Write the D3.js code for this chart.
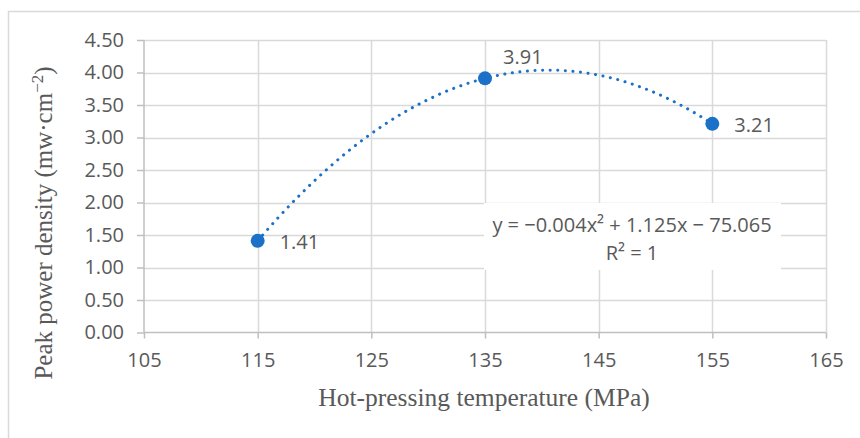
<!DOCTYPE html>
<html>
<head>
<meta charset="utf-8">
<script src="https://cdn.jsdelivr.net/npm/d3@7"></script>
<style>
  html, body { margin: 0; padding: 0; background: #fff; }
  svg { display: block; }
</style>
</head>
<body>
<svg id="chart" width="860" height="438"></svg>
<script>
// ---- data ----
const temperatures = [115, 135, 155];
const peakPower = [1.41, 3.91, 3.21];
const xTicks = [105, 115, 125, 135, 145, 155, 165];
const yTicks = [0, 0.5, 1, 1.5, 2, 2.5, 3, 3.5, 4, 4.5];
const xTitle = "Hot-pressing temperature (MPa)";
const equationText = "y = \u22120.004x\u00B2 + 1.125x \u2212 75.065";
const r2Text = "R\u00B2 = 1";

// ---- layout ----
const W = 860, H = 438;
const plot = { left: 144, right: 826, top: 40, bottom: 332.5 };
const svg = d3.select("#chart");

const x = d3.scaleLinear().domain([105, 165]).range([plot.left, plot.right]);
const y = d3.scaleLinear().domain([0, 4.5]).range([plot.bottom, plot.top]);

const gridColor = "#d9d9d9";
const axisColor = "#bfbfbf";
const textColor = "#595959";
const blue = "#1b70c8";
const sansFont = "'Open Sans', sans-serif";
const serifFont = "'Liberation Serif', 'Times New Roman', serif";

// chart border (only top & left visible)
svg.append("rect")
  .attr("x", 8.5).attr("y", 11.5)
  .attr("width", 900).attr("height", 500)
  .attr("fill", "none").attr("stroke", "#d9d9d9").attr("stroke-width", 1.5);

// gridlines
const grid = svg.append("g");
grid.selectAll("line.h").data(yTicks.filter(d => d > 0)).join("line")
  .attr("x1", plot.left).attr("x2", plot.right)
  .attr("y1", d => Math.round(y(d)) + 0.5).attr("y2", d => Math.round(y(d)) + 0.5)
  .attr("stroke", gridColor).attr("stroke-width", 1.5);
grid.selectAll("line.v").data(xTicks.filter(d => d > 105)).join("line")
  .attr("y1", plot.top).attr("y2", plot.bottom)
  .attr("x1", d => Math.round(x(d)) + 0.5).attr("x2", d => Math.round(x(d)) + 0.5)
  .attr("stroke", gridColor).attr("stroke-width", 1.5);

// axes
const xAxis = d3.axisBottom(x).tickValues(xTicks).tickSize(6).tickPadding(14).tickFormat(d3.format("d"));
const yAxis = d3.axisLeft(y).tickValues(yTicks).tickSize(7).tickPadding(20).tickFormat(d3.format(".2f"));

const gx = svg.append("g").attr("transform", `translate(0,${plot.bottom})`).call(xAxis);
const gy = svg.append("g").attr("transform", `translate(${plot.left},0)`).call(yAxis);
[gx, gy].forEach(g => {
  g.select(".domain").attr("stroke", axisColor).attr("stroke-width", 1.5);
  g.selectAll(".tick line").attr("stroke", axisColor).attr("stroke-width", 1.5);
  g.selectAll(".tick text").attr("fill", textColor).style("font-family", sansFont).style("font-size", "20px");
});
gy.selectAll(".tick text").attr("x", -20);
gx.select(".domain").attr("d", `M${plot.left},0H${plot.right}`);
gy.select(".domain").attr("d", `M0,${plot.bottom}V${plot.top}`);

// axis titles
svg.append("text")
  .attr("x", 484).attr("y", 406)
  .attr("text-anchor", "middle")
  .attr("fill", textColor)
  .style("font-family", serifFont).style("font-size", "25.5px")
  .text(xTitle);

const yt = svg.append("text")
  .attr("transform", `translate(52,${223}) rotate(-90)`)
  .attr("text-anchor", "middle")
  .attr("fill", textColor)
  .style("font-family", serifFont).style("font-size", "25px");
yt.append("tspan").text("Peak power density (mw\u00B7cm");
yt.append("tspan").attr("dy", -9).style("font-size", "17px").text("\u22122");
yt.append("tspan").attr("dy", 9).text(")");

// polynomial trendline (quadratic through the data, Lagrange form)
function quad(t) {
  let s = 0;
  for (let i = 0; i < 3; i++) {
    let term = peakPower[i];
    for (let j = 0; j < 3; j++) if (j !== i) term *= (t - temperatures[j]) / (temperatures[i] - temperatures[j]);
    s += term;
  }
  return s;
}
const tMin = d3.min(temperatures), tMax = d3.max(temperatures);
const curvePts = d3.range(0, 201).map(i => tMin + (tMax - tMin) * i / 200);
svg.append("path")
  .datum(curvePts)
  .attr("d", d3.line().x(d => x(d)).y(d => y(quad(d))))
  .attr("fill", "none").attr("stroke", blue)
  .attr("stroke-width", 3).attr("stroke-linecap", "round")
  .attr("stroke-dasharray", "0.1 7.5");

// equation box
const eq = svg.append("g");
eq.append("rect").attr("x", 484).attr("y", 203).attr("width", 297).attr("height", 67).attr("fill", "#fff");
eq.append("text").attr("x", 632).attr("y", 232).attr("text-anchor", "middle")
  .attr("fill", textColor).style("font-family", sansFont).style("font-size", "20px").text(equationText);
eq.append("text").attr("x", 632).attr("y", 260).attr("text-anchor", "middle")
  .attr("fill", textColor).style("font-family", sansFont).style("font-size", "20px").text(r2Text);

// markers
const pts = temperatures.map((t, i) => ({ t, v: peakPower[i] }));
svg.selectAll("circle.pt").data(pts).join("circle")
  .attr("cx", d => x(d.t)).attr("cy", d => y(d.v)).attr("r", 7)
  .attr("fill", blue);

// data labels
const labelOffsets = [[22, 8], [18, -14], [22, 8]];
svg.selectAll("text.lbl").data(pts).join("text")
  .attr("x", (d, i) => x(d.t) + labelOffsets[i][0])
  .attr("y", (d, i) => y(d.v) + labelOffsets[i][1])
  .attr("fill", textColor).style("font-family", sansFont).style("font-size", "20px")
  .text(d => d3.format(".2f")(d.v));
</script>
</body>
</html>
